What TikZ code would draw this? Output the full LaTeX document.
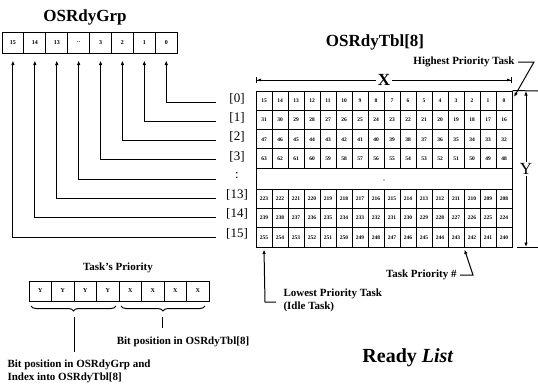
\documentclass[tikz,border=0pt]{standalone}
\usepackage{fontspec}
\setmainfont{Liberation Serif}
\usetikzlibrary{arrows.meta,decorations.pathreplacing}
\begin{document}
\begin{tikzpicture}[x=1pt,y=-1pt, line width=1pt,
 arr/.style={-{Latex[length=4.5pt,width=3.5pt]}},
 arrboth/.style={{Latex[length=4.5pt,width=3.5pt]}-{Latex[length=4.5pt,width=3.5pt]}},
 gbox/.style={draw, minimum width=21.9pt, minimum height=21pt, inner sep=0pt, font=\fontsize{6}{6}\selectfont\bfseries},
 pbox/.style={draw, minimum width=22.5pt, minimum height=20pt, inner sep=0pt, font=\fontsize{6}{6}\selectfont\bfseries},
 cell/.style={draw, minimum width=16pt, minimum height=19.3pt, inner sep=0pt, font=\fontsize{5.5}{5.5}\selectfont\bfseries},
 title/.style={font=\fontsize{17}{17}\selectfont\bfseries, inner sep=0pt},
 lbl/.style={font=\fontsize{11}{13}\selectfont\bfseries, inner sep=0pt},
 rowlbl/.style={font=\fontsize{13}{13}\selectfont, inner sep=0pt},
 brc/.style={decorate, decoration={brace, mirror, amplitude=5pt}}
]
\useasboundingbox (0,0) rectangle (538,383);

% OSRdyGrp
\node[title] (tgrp) at (85,17) {OSRdyGrp};
\foreach \lab/\nm [count=\i from 0] in {15/15,14/14,13/13,../d,3/3,2/2,1/1,0/0}
  \node[gbox] (gb\nm) at ({2+21.9*(\i+0.5)},42.5) {\lab};

% row lines and labels
\foreach \nm/\lab [count=\j from 0] in {0/[0],1/[1],2/[2],3/[3],d/:,13/[13],14/[14],15/[15]} {
  \coordinate (l\nm) at (216,{102+19.3*\j});
  \draw[arr, shorten >=7pt] (l\nm) -| (gb\nm.south);
  \node[rowlbl] (r\nm) at (237,{98.5+19.3*\j}) {\lab};
}

% OSRdyTbl
\node[title] (ttbl) at (375,42) {OSRdyTbl[8]};
\draw (256,91) rectangle (512,247);
\fill (384,180) circle (0.7pt);
\foreach \r/\t in {0/91,1/110.3,2/129.6,3/148.9,13/189.1,14/208.4,15/227.7}
  \foreach \k in {0,...,15} {
    \pgfmathtruncatemacro\n{16*\r+15-\k}
    \node[cell] (c\r-\k) at ({264+16*\k},{\t+9.65}) {\n};
  }

% X dimension
\coordinate (xl) at (256,80);
\coordinate (xr) at (512,80);
\draw[{Bar[width=6pt]Latex[length=4pt,width=3pt]}-{Latex[length=4pt,width=3pt]Bar[width=6pt]}] (xl) -- (xr)
  node[midway, fill=white, font=\fontsize{17}{17}\selectfont\bfseries, inner sep=2pt] (xlab) {X};

% Y dimension
\coordinate (yt) at (526,91);
\coordinate (yb) at (526,247);
\draw (c0-15.north east) -- (538,91);
\draw (517,247) -- (538,247);
\draw[arrboth] (yt) -- (yb) node[midway, fill=white, font=\fontsize{17}{17}\selectfont, inner sep=1pt] (ylab) {Y};

% Highest priority task
\node[lbl, anchor=east] (hpt) at (515,62) {Highest Priority Task};
\coordinate (hpb) at (534,62);
\coordinate (hptip) at (514,97);
\draw[arr] ([xshift=3pt]hpt.east) -- (hpb) -- (hptip);

% Task priority #
\node[lbl, anchor=east] (tp) at (457,275) {Task Priority \#};
\coordinate (tpb) at (473,275);
\draw[arr] ([xshift=3pt]tp.east) -- (tpb) -- ([yshift=-2pt]c15-12.south east);

% Lowest priority task
\node[lbl, anchor=west, align=left] (lpt) at (283,300) {Lowest Priority Task\\(Idle Task)};
\coordinate (lpc) at (265,302);
\draw[arr] ([xshift=-7pt,yshift=-2pt]lpt.west) -- (lpc) -- ([yshift=-2pt]c15-0.south);

% Task's priority
\node[lbl] (tpr) at (118,268) {Task's Priority};
\foreach \lab [count=\i] in {Y,Y,Y,Y,X,X,X,X}
  \node[pbox] (p\i) at ({29+22.5*(\i-0.5)},291) {\lab};
\coordinate (b1s) at (31,306);
\coordinate (b1e) at (116,306);
\coordinate (b2s) at (121,306);
\coordinate (b2e) at (205,306);
\draw[brc] (b1s) -- (b1e);
\draw[brc] (b2s) -- (b2e);
\coordinate (v1t) at (74,317);
\coordinate (v1b) at (74,352);
\coordinate (v2t) at (162,317);
\coordinate (v2b) at (162,328);
\draw (v1t) -- (v1b);
\draw (v2t) -- (v2b);
\node[lbl] (bpt) at (183,342) {Bit position in OSRdyTbl[8]};
\node[lbl, anchor=west, align=left] (bpg) at (7,371) {Bit position in OSRdyGrp and\\Index into OSRdyTbl[8]};

% Ready list
\node[font=\fontsize{20}{20}\selectfont\bfseries, inner sep=0pt] (rl) at (408,358) {Ready \textit{List}};
\end{tikzpicture}
\end{document}
